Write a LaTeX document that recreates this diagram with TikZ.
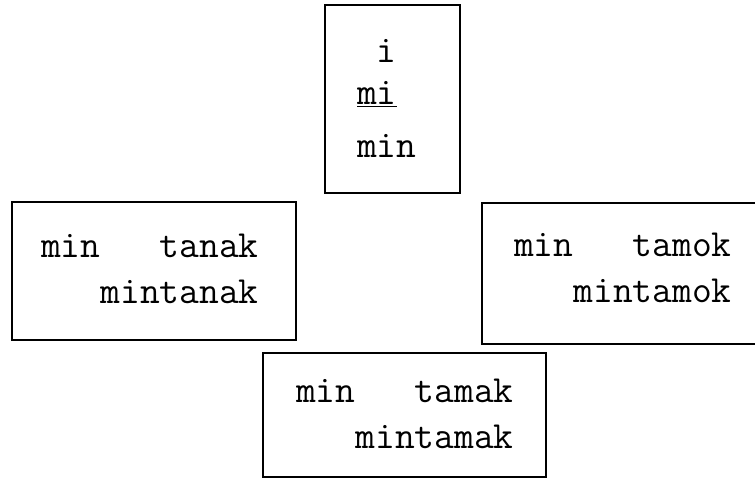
\documentclass[tikz,border=0pt]{standalone}
\usepackage{fontspec}
\usetikzlibrary{positioning}

\tikzset{box/.style={draw, line width=1.8pt, inner sep=0pt},
         typed/.style={font=\ttfamily\fontsize{38.4}{46}\selectfont, anchor=base west, inner sep=0pt, align=left}}

\begin{document}
\begin{tikzpicture}[x=1pt,y=-1pt]
  \path[use as bounding box, clip] (0,0) rectangle (755,481);

  % the four cards
  \node[box, minimum width=135pt, minimum height=188pt] (top)    at (392.5,99)  {};
  \node[box, minimum width=284pt, minimum height=138pt] (left)   at (154,271)   {};
  \node[box, minimum width=318pt, minimum height=141pt] (right)  at (641,273.5) {};
  \node[box, minimum width=283pt, minimum height=124pt] (bottom) at (404.5,415) {};

  % what is typed on them (anchored on the last line)
  \node[typed] (topText)    at (357,158) {\hphantom{m}i\\[-4pt]\underline{mi}\\[7pt]min};
  \node[typed] (leftText)   at (41,303)  {min\hphantom{000}tanak\\\hphantom{000}mintanak};
  \node[typed] (rightText)  at (514,302) {min\hphantom{000}tamok\\\hphantom{000}mintamok};
  \node[typed] (bottomText) at (296,448) {min\hphantom{000}tamak\\\hphantom{000}mintamak};
\end{tikzpicture}
\end{document}
